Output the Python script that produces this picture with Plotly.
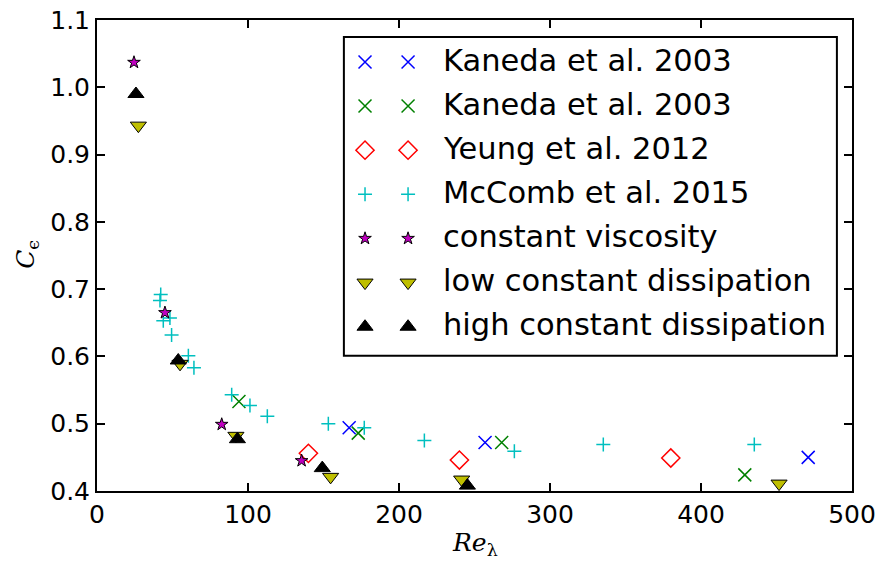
import plotly.graph_objects as go

# ---------------- data ----------------
kaneda_blue_x = [167, 257, 471]
kaneda_blue_y = [0.494, 0.472, 0.450]

kaneda_green_x = [94, 173, 268, 429]
kaneda_green_y = [0.533, 0.486, 0.472, 0.424]

yeung_x = [140, 240, 380]
yeung_y = [0.456, 0.446, 0.449]

mccomb_x = [42.2, 41.7, 43.9, 48.3, 49.4, 60.5, 64.2, 89.2, 101.3, 112.8,
            153.2, 177, 216.8, 276.4, 335.3, 435.3]
mccomb_y = [0.692, 0.683, 0.653, 0.657, 0.632, 0.601, 0.583, 0.543, 0.527, 0.511,
            0.500, 0.494, 0.475, 0.459, 0.469, 0.469]

visc_x = [24.5, 45, 82.6, 135.5]
visc_y = [1.037, 0.665, 0.499, 0.445]

low_x = [27.4, 55, 92, 154.7, 241.5, 451.7]
low_y = [0.943, 0.589, 0.482, 0.421, 0.417, 0.411]

high_x = [25.8, 53.8, 93, 149.2, 245.3]
high_y = [0.990, 0.594, 0.477, 0.434, 0.408]

labels = ["Kaneda et al. 2003", "Kaneda et al. 2003", "Yeung et al. 2012",
          "McComb et al. 2015", "constant viscosity",
          "low constant dissipation", "high constant dissipation"]

x_ticks = [0, 100, 200, 300, 400, 500]
y_ticks = [0.4, 0.5, 0.6, 0.7, 0.8, 0.9, 1.0, 1.1]

# ---------------- styles ----------------
styles = [
    dict(symbol="x-thin", size=13, color="rgb(0,0,255)", line=dict(width=1.5, color="rgb(0,0,255)")),
    dict(symbol="x-thin", size=13, color="rgb(0,128,0)", line=dict(width=1.5, color="rgb(0,128,0)")),
    dict(symbol="diamond-open", size=14, color="rgb(255,0,0)", line=dict(width=1.5, color="rgb(255,0,0)")),
    dict(symbol="cross-thin", size=10, color="rgb(0,191,191)", line=dict(width=1.5, color="rgb(0,191,191)")),
    dict(symbol="star", size=9.5, color="rgb(191,0,191)", line=dict(width=1, color="black")),
    dict(symbol="triangle-down", size=14, color="rgb(191,191,0)", line=dict(width=1, color="black")),
    dict(symbol="triangle-up", size=14, color="black", line=dict(width=1, color="black")),
]

series = [(kaneda_blue_x, kaneda_blue_y), (kaneda_green_x, kaneda_green_y),
          (yeung_x, yeung_y), (mccomb_x, mccomb_y), (visc_x, visc_y),
          (low_x, low_y), (high_x, high_y)]

fig = go.Figure()
for (xs, ys), st, lab in zip(series, styles, labels):
    fig.add_trace(go.Scatter(x=xs, y=ys, mode="markers", marker=st, name=lab,
                             showlegend=False))

# ---------------- custom legend (two markers per entry) ----------------
leg_x0, leg_x1, leg_y0, leg_y1 = 0.327, 0.980, 0.287, 0.964
row_top, row_step = 0.911, 0.0937
mk_x = [0.355, 0.412]
txt_x = 0.455

fig.add_shape(type="rect", xref="paper", yref="paper",
              x0=leg_x0, x1=leg_x1, y0=leg_y0, y1=leg_y1,
              line=dict(color="black", width=2), fillcolor="white", layer="below")

for i, (st, lab) in enumerate(zip(styles, labels)):
    ry = row_top - i * row_step
    fig.add_trace(go.Scatter(x=mk_x, y=[ry, ry], mode="markers", marker=st,
                             xaxis="x2", yaxis="y2", showlegend=False,
                             cliponaxis=False, hoverinfo="skip"))
    fig.add_annotation(x=txt_x, y=ry + 0.004, xref="paper", yref="paper",
                       text=lab, showarrow=False, xanchor="left", yanchor="middle",
                       font=dict(family="DejaVu Sans", size=30.5, color="black"))

# ---------------- axis titles ----------------
fig.add_annotation(x=0.5, y=-0.113, xref="paper", yref="paper",
                   text="<i>Re</i><sub>λ</sub>", showarrow=False,
                   xanchor="center", yanchor="middle",
                   font=dict(family="DejaVu Serif", size=25, color="black"))
fig.add_annotation(x=-0.093, y=0.503, xref="paper", yref="paper",
                   text="<i>C</i><sub>ϵ</sub>", showarrow=False, textangle=-90,
                   xanchor="center", yanchor="middle",
                   font=dict(family="DejaVu Serif", size=25, color="black"))

axis_common = dict(showline=True, linewidth=2, linecolor="black", mirror="ticks",
                   ticks="inside", ticklen=8, tickwidth=1.5, tickcolor="black",
                   showgrid=False, zeroline=False, automargin=False,
                   tickfont=dict(family="DejaVu Sans", size=25, color="black"))

fig.update_layout(
    width=880, height=565,
    margin=dict(l=97, r=28, t=20, b=74),
    paper_bgcolor="white", plot_bgcolor="white",
    xaxis=dict(range=[0, 500], tickvals=x_ticks, ticktext=[str(v) for v in x_ticks],
               **axis_common),
    yaxis=dict(range=[0.4, 1.1], tickvals=y_ticks, ticktext=[f"{v:.1f}" for v in y_ticks],
               **axis_common),
    xaxis2=dict(range=[0, 1], overlaying="x", visible=False, anchor="y2"),
    yaxis2=dict(range=[0, 1], overlaying="y", visible=False, anchor="x2"),
)

fig.write_html("out.html")
